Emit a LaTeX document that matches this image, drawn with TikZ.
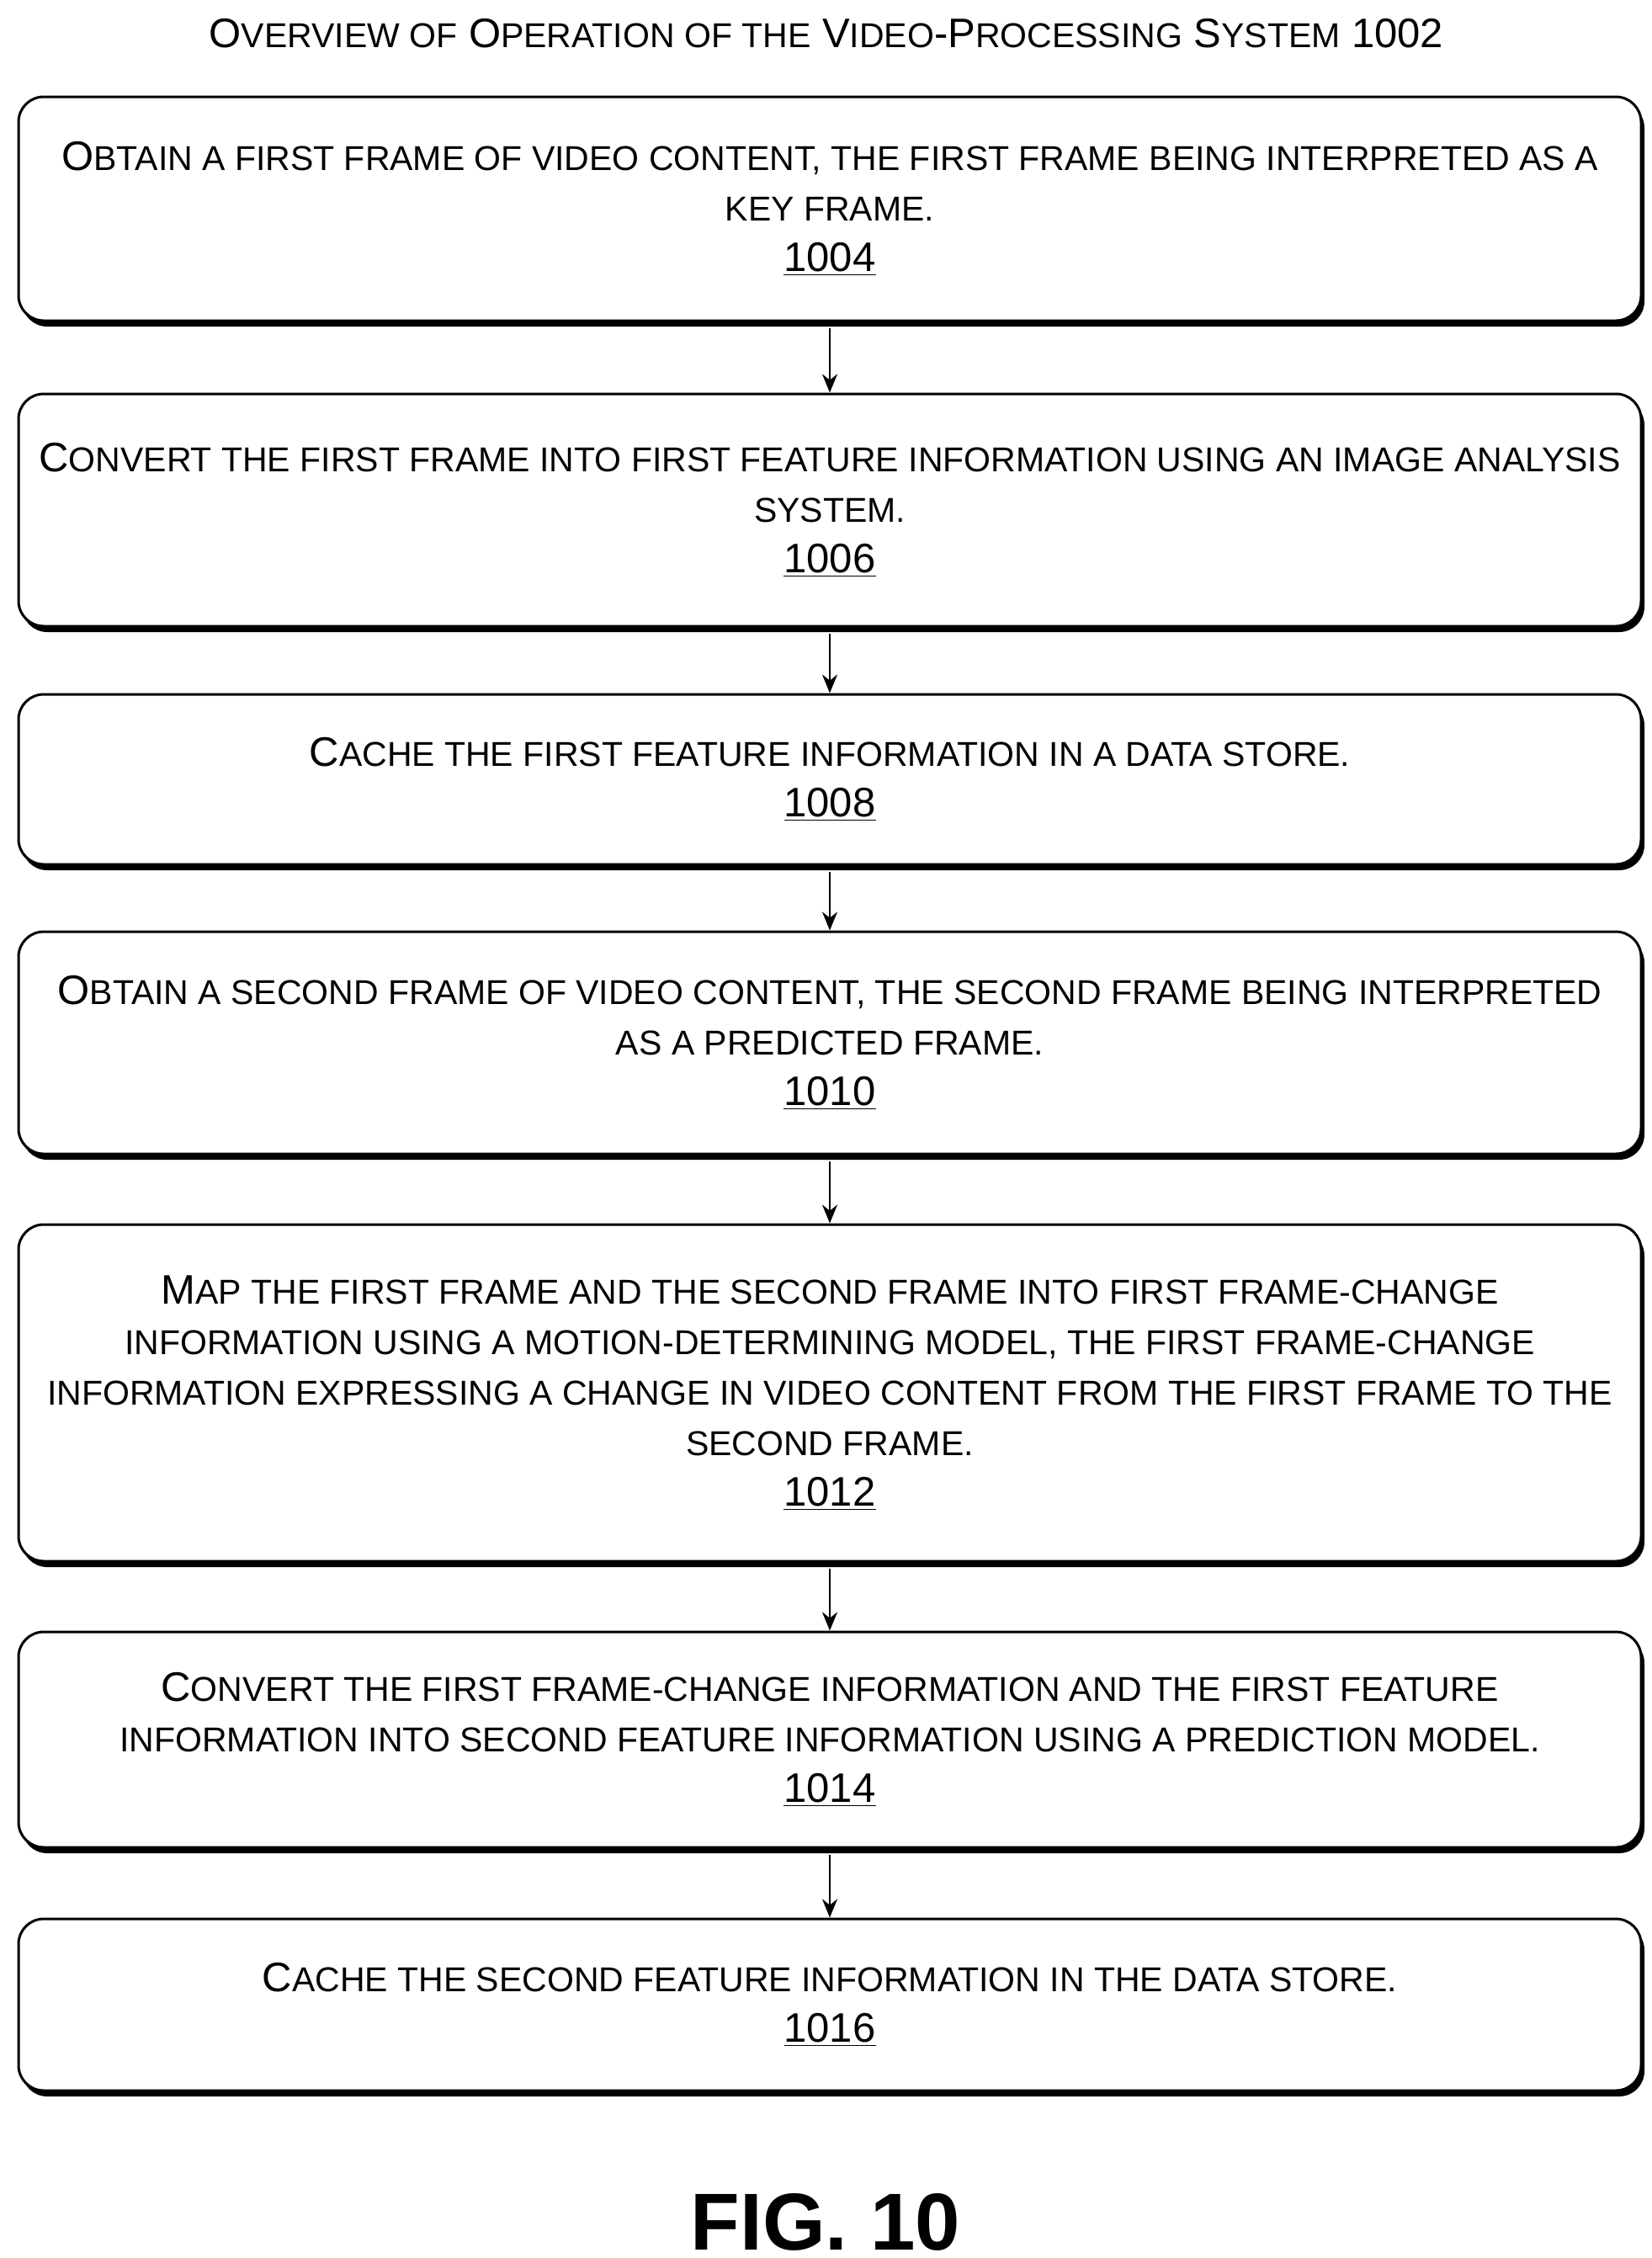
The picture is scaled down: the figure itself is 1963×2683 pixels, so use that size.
\documentclass[tikz,border=0pt]{standalone}
\usepackage{fontspec}
\setmainfont{Liberation Sans}
\usetikzlibrary{shadows,arrows.meta}
\newcommand{\sm}[1]{{\fontsize{20.5}{30}\selectfont #1}}
\newcommand{\num}[1]{\underline{#1}}
\tikzset{
 stepbox/.style={draw, line width=1.5pt, rounded corners=15pt, fill=white, minimum width=964pt, align=center, font=\fontsize{24.5}{30}\selectfont, drop shadow={shadow xshift=2pt, shadow yshift=-3.5pt, fill=black, opacity=1}},
 conn/.style={-{Stealth[length=11pt,width=9pt]}, line width=1.2pt}
}
\begin{document}
\begin{tikzpicture}[x=0.5pt,y=-0.5pt]
\useasboundingbox (0,0) rectangle (1963,2683);
\node (title) at (982,40) {\fontsize{24.5}{30}\selectfont O\sm{VERVIEW OF} O\sm{PERATION OF THE} V\sm{IDEO}-P\sm{ROCESSING} S\sm{YSTEM} 1002};
\node[stepbox, minimum height=133pt] (b1) at (986,248) {O\sm{BTAIN A FIRST FRAME OF VIDEO CONTENT, THE FIRST FRAME BEING INTERPRETED AS A}\\\sm{KEY FRAME.}\\\num{1004}};
\node[stepbox, minimum height=138pt] (b2) at (986,606) {C\sm{ONVERT THE FIRST FRAME INTO FIRST FEATURE INFORMATION USING AN IMAGE ANALYSIS}\\\sm{SYSTEM.}\\\num{1006}};
\node[stepbox, minimum height=101pt] (b3) at (986,926) {C\sm{ACHE THE FIRST FEATURE INFORMATION IN A DATA STORE.}\\\num{1008}};
\node[stepbox, minimum height=132pt] (b4) at (986,1239) {O\sm{BTAIN A SECOND FRAME OF VIDEO CONTENT, THE SECOND FRAME BEING INTERPRETED}\\\sm{AS A PREDICTED FRAME.}\\\num{1010}};
\node[stepbox, minimum height=200pt] (b5) at (986,1655) {M\sm{AP THE FIRST FRAME AND THE SECOND FRAME INTO FIRST FRAME-CHANGE}\\\sm{INFORMATION USING A MOTION-DETERMINING MODEL, THE FIRST FRAME-CHANGE}\\\sm{INFORMATION EXPRESSING A CHANGE IN VIDEO CONTENT FROM THE FIRST FRAME TO THE}\\\sm{SECOND FRAME.}\\\num{1012}};
\node[stepbox, minimum height=128pt] (b6) at (986,2067) {C\sm{ONVERT THE FIRST FRAME-CHANGE INFORMATION AND THE FIRST FEATURE}\\\sm{INFORMATION INTO SECOND FEATURE INFORMATION USING A PREDICTION MODEL.}\\\num{1014}};
\node[stepbox, minimum height=102pt] (b7) at (986,2382) {C\sm{ACHE THE SECOND FEATURE INFORMATION IN THE DATA STORE.}\\\num{1016}};
\node[font=\fontsize{48}{50}\selectfont\bfseries] (fig) at (981,2640) {FIG. 10};
\draw[conn] ([yshift=-3.5pt]b1.south) -- (b2.north);
\draw[conn] ([yshift=-3.5pt]b2.south) -- (b3.north);
\draw[conn] ([yshift=-3.5pt]b3.south) -- (b4.north);
\draw[conn] ([yshift=-3.5pt]b4.south) -- (b5.north);
\draw[conn] ([yshift=-3.5pt]b5.south) -- (b6.north);
\draw[conn] ([yshift=-3.5pt]b6.south) -- (b7.north);
\end{tikzpicture}
\end{document}
